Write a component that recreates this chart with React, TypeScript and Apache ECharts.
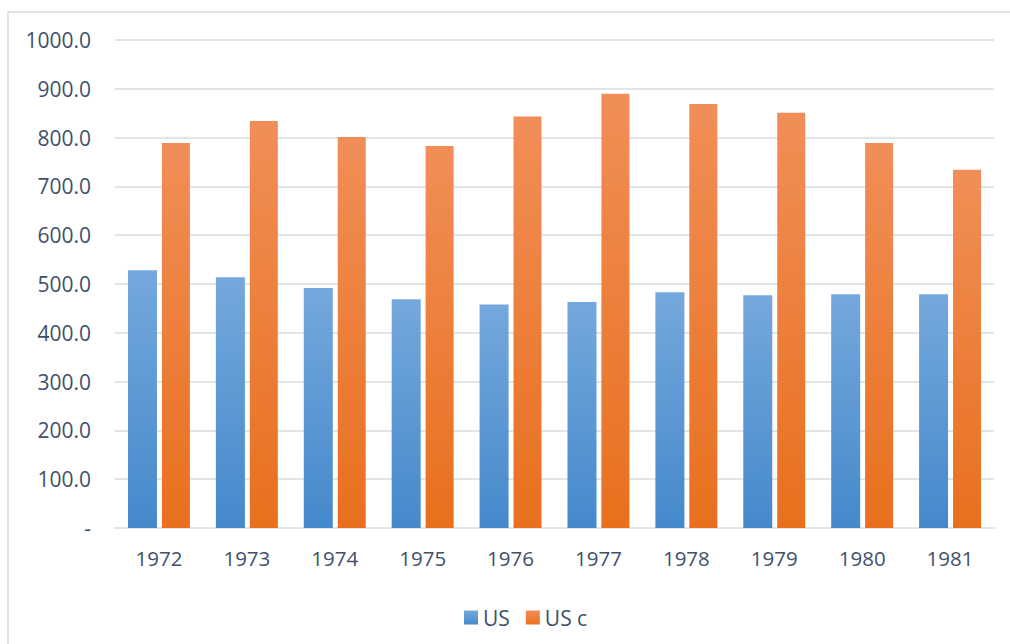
import React, { useEffect, useRef } from "react";
import * as echarts from "echarts";

const years = ["1972", "1973", "1974", "1975", "1976", "1977", "1978", "1979", "1980", "1981"];
const usValues = [528, 514, 492, 469, 458, 463, 483, 477, 479, 479];
const uscValues = [789, 834, 801, 783, 843, 890, 869, 851, 789, 734];
const seriesNames = ["US", "US c"];

const TEXT = "#40506a";
const GRID = "#e1e5ea";
const FONT = "'Open Sans', 'Noto Sans', sans-serif";

export default function App() {
  const ref = useRef<HTMLDivElement>(null);
  useEffect(() => {
    if (!ref.current) return;
    const chart = echarts.init(ref.current, undefined, { renderer: "svg" });
    const blue = new echarts.graphic.LinearGradient(0, 0, 0, 1, [
      { offset: 0, color: "#75a8dd" },
      { offset: 1, color: "#4589cb" },
    ]);
    const orange = new echarts.graphic.LinearGradient(0, 0, 0, 1, [
      { offset: 0, color: "#f18e58" },
      { offset: 1, color: "#e8701d" },
    ]);
    chart.setOption({
      animation: false,
      backgroundColor: "#ffffff",
      textStyle: { fontFamily: FONT, color: TEXT },
      graphic: [
        {
          type: "rect",
          shape: { x: 8, y: 12, width: 1200, height: 1000 },
          style: { fill: "none", stroke: "#dfe4ea", lineWidth: 2 },
          silent: true,
        },
      ],
      grid: { left: 115, right: 16, top: 40, bottom: 116, containLabel: false },
      legend: {
        data: seriesNames,
        left: 459,
        top: 602,
        itemWidth: 14,
        itemHeight: 14,
        itemGap: 16,
        icon: "rect",
        textStyle: { fontFamily: FONT, fontSize: 21, color: TEXT, padding: [0, 0, 0, 0] },
      },
      xAxis: {
        type: "category",
        data: years,
        axisLine: { show: true, lineStyle: { color: GRID, width: 2 } },
        axisTick: { show: false },
        axisLabel: { fontFamily: FONT, fontSize: 20.5, color: TEXT, margin: 19 },
      },
      yAxis: {
        type: "value",
        min: 0,
        max: 1000,
        interval: 100,
        axisLine: { show: false },
        axisTick: { show: false },
        splitLine: { lineStyle: { color: GRID, width: 2 } },
        axisLabel: {
          fontFamily: FONT,
          fontSize: 21,
          color: TEXT,
          margin: 24,
          formatter: (v: number) => (v === 0 ? "-" : v.toFixed(1)),
        },
      },
      series: [
        {
          name: seriesNames[0],
          type: "bar",
          data: usValues,
          barWidth: 29,
          barGap: "17%",
          itemStyle: { color: blue },
        },
        {
          name: seriesNames[1],
          type: "bar",
          data: uscValues,
          barWidth: 28,
          itemStyle: { color: orange },
        },
      ],
    });
    return () => chart.dispose();
  }, []);
  return (
    <div
      ref={ref}
      style={{ position: "fixed", left: 0, top: 0, width: 1010, height: 644 }}
    />
  );
}
